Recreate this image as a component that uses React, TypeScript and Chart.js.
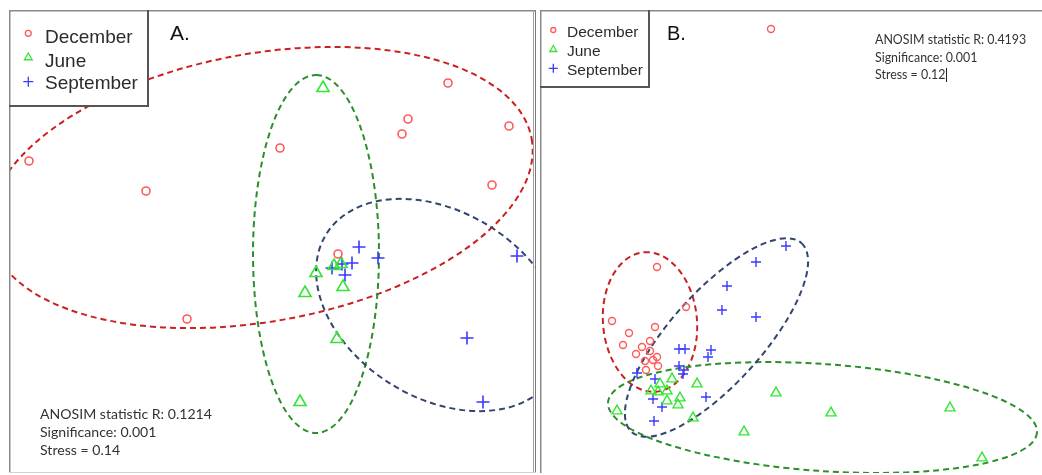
import { useEffect, useRef } from "react";
import { Chart, registerables } from "chart.js";

Chart.register(...registerables);

type Pt = [number, number];

const seasons = ["December", "June", "September"];

// ---- Panel A: NMDS ordination (NMDS1, NMDS2) ----
const decemberA: Pt[] = [
  [-2.43, 0.81], [-1.26, 0.51], [-0.85, -0.77], [0.08, 0.94], [0.66, -0.12],
  [1.3, 1.08], [1.36, 1.23], [1.76, 1.59], [2.2, 0.57], [2.37, 1.16],
];
const juneA: Pt[] = [
  [0.51, 1.54], [0.44, -0.31], [0.33, -0.51], [0.71, -0.45], [0.65, -0.97],
  [0.28, -1.6], [0.62, -0.24], [0.69, -0.22],
];
const septemberA: Pt[] = [
  [0.87, -0.05], [1.06, -0.16], [2.45, -0.14], [0.6, -0.26], [0.7, -0.22],
  [0.8, -0.21], [0.73, -0.33], [1.95, -0.96], [2.11, -1.6],
];
// group ellipses: [centreX, centreY, semiMajor, semiMinor, angleDeg]
const ellipsesA: [number, number, number, number, number][] = [
  [-0.11, 0.545, 2.75, 1.34, 10.2],
  [0.44, -0.12, 1.79, 0.63, 90],
  [1.68, -0.63, 1.34, 0.93, -32],
];
const statsA = ["ANOSIM statistic R: 0.1214", "Significance: 0.001", "Stress = 0.14"];

// ---- Panel B ----
const decemberB: Pt[] = [
  [-0.2, 2.13], [-1.34, -0.25], [-1.05, -0.65], [-1.79, -0.79], [-1.62, -0.91],
  [-1.36, -0.85], [-1.68, -1.03], [-1.41, -0.99], [-1.49, -1.05], [-1.41, -1.09],
  [-1.55, -1.12], [-1.46, -1.19], [-1.34, -1.15], [-1.38, -1.18], [-1.33, -1.24],
  [-1.45, -1.28],
];
const juneB: Pt[] = [
  [-1.74, -1.69], [-1.4, -1.49], [-1.33, -1.5], [-1.31, -1.42], [-1.24, -1.49],
  [-1.19, -1.37], [-1.24, -1.59], [-1.11, -1.56], [-1.13, -1.63], [-0.98, -1.76],
  [-0.94, -1.42], [-0.47, -1.9], [-0.15, -1.51], [0.4, -1.71], [1.59, -1.66],
  [1.91, -2.16],
];
const septemberB: Pt[] = [
  [-0.05, -0.04], [-0.35, -0.2], [-0.64, -0.44], [-0.69, -0.68], [-0.35, -0.75],
  [-1.12, -1.07], [-1.06, -1.07], [-0.8, -1.08], [-0.83, -1.15], [-1.12, -1.24],
  [-1.07, -1.28], [-1.08, -1.32], [-1.54, -1.31], [-1.36, -1.37], [-1.38, -1.57],
  [-0.85, -1.55], [-1.29, -1.65], [-1.37, -1.79],
];
const ellipsesB: [number, number, number, number, number][] = [
  [-1.41, -0.8, 0.7, 0.47, 95],
  [0.315, -1.755, 2.15, 0.535, -4],
  [-0.745, -0.955, 1.27, 0.46, 48],
];
const statsB = ["ANOSIM statistic R: 0.4193", "Significance: 0.001", "Stress = 0.12"];

const pointColors = ["#ff5a5a", "#33e633", "#3a3aff"];
const ellipseColors = ["#cc2020", "#2b8f2b", "#33456e"];
const pointStyles = ["circle", "triangle", "cross"] as const;

type PanelSpec = {
  left: number;
  width: number;
  xRange: [number, number];
  yRange: [number, number];
  groups: Pt[][];
  ellipses: [number, number, number, number, number][];
  radii: number[];
  markerWidth: number;
  tag: string;
  tagX: number;
  tagY: number;
  tagSize: number;
  legendBox: [number, number];
  legendMarkerX: number;
  legendMarkerY: number[];
  legendMarkerR: number[];
  legendTextX: number;
  legendTextY: number[];
  legendFont: number;
  stats: string[];
  statsX: number;
  statsY: number[];
  statsFont: number;
  rightBorder: boolean;
  caret: boolean;
};

const TOP = 10;
const HEIGHT = 463;

function drawMarker(ctx: CanvasRenderingContext2D, kind: number, x: number, y: number, r: number) {
  ctx.beginPath();
  if (kind === 0) {
    ctx.arc(x, y, r, 0, Math.PI * 2);
  } else if (kind === 1) {
    for (let i = 0; i < 3; i++) {
      const a = (i * 2 * Math.PI) / 3;
      const px = x + Math.sin(a) * r;
      const py = y - Math.cos(a) * r;
      if (i === 0) ctx.moveTo(px, py);
      else ctx.lineTo(px, py);
    }
    ctx.closePath();
  } else {
    ctx.moveTo(x - r, y);
    ctx.lineTo(x + r, y);
    ctx.moveTo(x, y - r);
    ctx.lineTo(x, y + r);
  }
  ctx.stroke();
}

function makePlugins(spec: PanelSpec) {
  const ellipsePlugin = {
    id: "groupEllipses",
    beforeDatasetsDraw(chart: Chart) {
      const { ctx, chartArea } = chart;
      const xs = chart.scales.x;
      const ys = chart.scales.y;
      ctx.save();
      ctx.beginPath();
      ctx.rect(chartArea.left, chartArea.top, chartArea.right - chartArea.left, chartArea.bottom - chartArea.top);
      ctx.clip();
      spec.ellipses.forEach(([ex, ey, a, b, ang], i) => {
        const cx = xs.getPixelForValue(ex);
        const cy = ys.getPixelForValue(ey);
        const rx = Math.abs(xs.getPixelForValue(ex + a) - cx);
        const ry = Math.abs(ys.getPixelForValue(ey + b) - cy);
        ctx.beginPath();
        ctx.setLineDash([6, 4]);
        ctx.lineWidth = 2;
        ctx.strokeStyle = ellipseColors[i];
        ctx.ellipse(cx, cy, rx, ry, (-ang * Math.PI) / 180, 0, Math.PI * 2);
        ctx.stroke();
      });
      ctx.restore();
    },
  };

  const decorPlugin = {
    id: "panelDecor",
    afterDraw(chart: Chart) {
      const { ctx } = chart;
      const w = chart.width;
      const h = chart.height;
      ctx.save();
      ctx.setLineDash([]);

      // frame
      ctx.strokeStyle = "#8a8a8a";
      ctx.lineWidth = 1.5;
      ctx.beginPath();
      ctx.moveTo(0, 0.75);
      ctx.lineTo(w, 0.75);
      ctx.moveTo(0.75, 0);
      ctx.lineTo(0.75, h);
      ctx.stroke();
      if (spec.rightBorder) {
        ctx.strokeStyle = "#a0a0a0";
        ctx.lineWidth = 1;
        ctx.beginPath();
        ctx.moveTo(w - 2.5, 0);
        ctx.lineTo(w - 2.5, h);
        ctx.stroke();
        ctx.strokeStyle = "#7a7a7a";
        ctx.beginPath();
        ctx.moveTo(w - 0.5, 0);
        ctx.lineTo(w - 0.5, h);
        ctx.stroke();
        ctx.strokeStyle = "#d0d0d0";
        ctx.beginPath();
        ctx.moveTo(0, h - 0.5);
        ctx.lineTo(w, h - 0.5);
        ctx.stroke();
      }

      // legend box
      const [bw, bh] = spec.legendBox;
      ctx.fillStyle = "#ffffff";
      ctx.fillRect(0, 0, bw, bh);
      ctx.strokeStyle = "#8a8a8a";
      ctx.lineWidth = 1.5;
      ctx.beginPath();
      ctx.moveTo(0, 0.75);
      ctx.lineTo(bw, 0.75);
      ctx.moveTo(0.75, 0);
      ctx.lineTo(0.75, bh);
      ctx.stroke();
      ctx.strokeStyle = "#555555";
      ctx.lineWidth = 2;
      ctx.beginPath();
      ctx.moveTo(bw - 1, 0);
      ctx.lineTo(bw - 1, bh - 1);
      ctx.lineTo(0, bh - 1);
      ctx.stroke();

      seasons.forEach((name, i) => {
        ctx.strokeStyle = pointColors[i];
        ctx.lineWidth = 1.3;
        drawMarker(ctx, i, spec.legendMarkerX, spec.legendMarkerY[i], spec.legendMarkerR[i]);
        ctx.fillStyle = "#2b2b2b";
        ctx.font = `${spec.legendFont}px "Liberation Sans", Arial, sans-serif`;
        ctx.textBaseline = "alphabetic";
        ctx.textAlign = "left";
        ctx.fillText(name, spec.legendTextX, spec.legendTextY[i]);
      });

      // panel tag
      ctx.fillStyle = "#111111";
      ctx.font = `${spec.tagSize}px "Liberation Sans", Arial, sans-serif`;
      ctx.fillText(spec.tag, spec.tagX, spec.tagY);

      // statistics
      ctx.fillStyle = "#333333";
      ctx.font = `${spec.statsFont}px Lato, "Open Sans", sans-serif`;
      spec.stats.forEach((s, i) => ctx.fillText(s, spec.statsX, spec.statsY[i]));
      if (spec.caret) {
        const last = spec.stats.length - 1;
        const cx = spec.statsX + ctx.measureText(spec.stats[last]).width + 1;
        ctx.strokeStyle = "#222222";
        ctx.lineWidth = 1;
        ctx.beginPath();
        ctx.moveTo(Math.round(cx) + 0.5, spec.statsY[last] - 11);
        ctx.lineTo(Math.round(cx) + 0.5, spec.statsY[last] + 3);
        ctx.stroke();
      }
      ctx.restore();
    },
  };
  return [ellipsePlugin, decorPlugin];
}

function Panel({ spec }: { spec: PanelSpec }) {
  const ref = useRef<HTMLCanvasElement>(null);
  useEffect(() => {
    if (!ref.current) return;
    const chart = new Chart(ref.current, {
      type: "scatter",
      data: {
        datasets: spec.groups.map((pts, i) => ({
          label: seasons[i],
          data: pts.map(([x, y]) => ({ x, y })),
          pointStyle: pointStyles[i],
          pointRadius: spec.radii[i],
          pointBorderWidth: spec.markerWidth,
          borderColor: pointColors[i],
          backgroundColor: "rgba(0,0,0,0)",
        })),
      },
      options: {
        responsive: false,
        animation: false,
        layout: { padding: 0, autoPadding: false },
        scales: {
          x: { type: "linear", min: spec.xRange[0], max: spec.xRange[1], display: false },
          y: { type: "linear", min: spec.yRange[0], max: spec.yRange[1], display: false },
        },
        plugins: { legend: { display: false }, tooltip: { enabled: false } },
      },
      plugins: makePlugins(spec),
    });
    return () => chart.destroy();
  }, [spec]);
  return (
    <div style={{ position: "absolute", left: spec.left, top: TOP, width: spec.width, height: HEIGHT }}>
      <canvas ref={ref} width={spec.width} height={HEIGHT} style={{ display: "block" }} />
    </div>
  );
}

const panelA: PanelSpec = {
  left: 9,
  width: 527,
  xRange: [-2.63, 2.64],
  yRange: [-2.31, 2.32],
  groups: [decemberA, juneA, septemberA],
  ellipses: ellipsesA,
  radii: [4, 7, 6.5],
  markerWidth: 1.6,
  tag: "A.",
  tagX: 161,
  tagY: 30,
  tagSize: 21,
  legendBox: [140, 97],
  legendMarkerX: 19.3,
  legendMarkerY: [23.3, 47.5, 71.7],
  legendMarkerR: [3, 4.5, 5],
  legendTextX: 36,
  legendTextY: [33, 57, 79],
  legendFont: 19,
  stats: statsA,
  statsX: 31,
  statsY: [409, 427, 445],
  statsFont: 14.1,
  rightBorder: true,
  caret: false,
};

const panelB: PanelSpec = {
  left: 540,
  width: 502,
  xRange: [-2.51, 2.51],
  yRange: [-2.31, 2.32],
  groups: [decemberB, juneB, septemberB],
  ellipses: ellipsesB,
  radii: [3.5, 5.8, 5],
  markerWidth: 1.4,
  tag: "B.",
  tagX: 127,
  tagY: 29.5,
  tagSize: 20,
  legendBox: [110, 78],
  legendMarkerX: 13.3,
  legendMarkerY: [20, 39.5, 58.3],
  legendMarkerR: [2.5, 4, 4.5],
  legendTextX: 27,
  legendTextY: [27.3, 46, 65],
  legendFont: 15.5,
  stats: statsB,
  statsX: 335,
  statsY: [34.3, 51.7, 69],
  statsFont: 12.4,
  rightBorder: false,
  caret: true,
};

export default function App() {
  return (
    <div style={{ width: 1026, height: 459 }}>
      <Panel spec={panelA} />
      <Panel spec={panelB} />
    </div>
  );
}
